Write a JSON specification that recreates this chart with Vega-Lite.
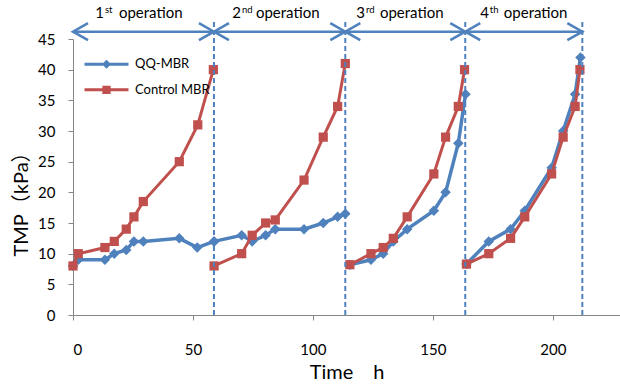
{
  "$schema": "https://vega.github.io/schema/vega-lite/v6.json",
  "autosize": {"type": "none"},
  "padding": {"left": 73, "top": 39, "right": 0, "bottom": 75},
  "width": 547,
  "height": 276,
  "background": "white",
  "config": {
    "view": {"stroke": null},
    "font": "Lato",
    "axis": {
      "grid": false,
      "domainColor": "#868686",
      "tickColor": "#868686",
      "tickSize": 5,
      "labelColor": "#000000",
      "labelFont": "Lato",
      "labelFontSize": 15,
      "labelOverlap": false,
      "titleColor": "#000000",
      "titleFont": "Lato, Noto Sans CJK SC",
      "titleFontSize": 20,
      "titleFontWeight": "normal"
    },
    "axisY": {"tickCount": 10},
    "axisX": {"tickCount": 5}
  },
  "datasets": {
    "ops": [
      {"n": "1", "sup": "st", "start": 0, "end": 58.75, "mid": 28.3},
      {"n": "2", "sup": "nd", "start": 58.75, "end": 113.5, "mid": 85.4},
      {"n": "3", "sup": "rd", "start": 113.5, "end": 163.5, "mid": 137.1},
      {"n": "4", "sup": "th", "start": 163.5, "end": 212.3, "mid": 188.75}
    ],
    "pts": [
      {"series": "QQ-MBR", "run": "Q1", "time": 0, "tmp": 8},
      {"series": "QQ-MBR", "run": "Q1", "time": 2.2, "tmp": 9},
      {"series": "QQ-MBR", "run": "Q1", "time": 13.3, "tmp": 9},
      {"series": "QQ-MBR", "run": "Q1", "time": 17.2, "tmp": 10},
      {"series": "QQ-MBR", "run": "Q1", "time": 22.2, "tmp": 10.6},
      {"series": "QQ-MBR", "run": "Q1", "time": 25.4, "tmp": 12},
      {"series": "QQ-MBR", "run": "Q1", "time": 29.3, "tmp": 12},
      {"series": "QQ-MBR", "run": "Q1", "time": 44.3, "tmp": 12.5},
      {"series": "QQ-MBR", "run": "Q1", "time": 51.8, "tmp": 11},
      {"series": "QQ-MBR", "run": "Q1", "time": 58.8, "tmp": 12},
      {"series": "QQ-MBR", "run": "Q2", "time": 58.8, "tmp": 12},
      {"series": "QQ-MBR", "run": "Q2", "time": 70.3, "tmp": 13},
      {"series": "QQ-MBR", "run": "Q2", "time": 74.7, "tmp": 12},
      {"series": "QQ-MBR", "run": "Q2", "time": 80.3, "tmp": 13},
      {"series": "QQ-MBR", "run": "Q2", "time": 84.3, "tmp": 14},
      {"series": "QQ-MBR", "run": "Q2", "time": 96.3, "tmp": 14},
      {"series": "QQ-MBR", "run": "Q2", "time": 104.3, "tmp": 15},
      {"series": "QQ-MBR", "run": "Q2", "time": 110.3, "tmp": 16},
      {"series": "QQ-MBR", "run": "Q2", "time": 113.5, "tmp": 16.5},
      {"series": "QQ-MBR", "run": "Q3", "time": 115.4, "tmp": 8.2},
      {"series": "QQ-MBR", "run": "Q3", "time": 124.2, "tmp": 9},
      {"series": "QQ-MBR", "run": "Q3", "time": 129.3, "tmp": 10},
      {"series": "QQ-MBR", "run": "Q3", "time": 133.5, "tmp": 12},
      {"series": "QQ-MBR", "run": "Q3", "time": 139.3, "tmp": 14},
      {"series": "QQ-MBR", "run": "Q3", "time": 150.4, "tmp": 17},
      {"series": "QQ-MBR", "run": "Q3", "time": 155.3, "tmp": 20},
      {"series": "QQ-MBR", "run": "Q3", "time": 160.6, "tmp": 28},
      {"series": "QQ-MBR", "run": "Q3", "time": 163.6, "tmp": 36},
      {"series": "QQ-MBR", "run": "Q4", "time": 164, "tmp": 8.3},
      {"series": "QQ-MBR", "run": "Q4", "time": 173.3, "tmp": 12},
      {"series": "QQ-MBR", "run": "Q4", "time": 182.4, "tmp": 14},
      {"series": "QQ-MBR", "run": "Q4", "time": 188.3, "tmp": 17},
      {"series": "QQ-MBR", "run": "Q4", "time": 199.5, "tmp": 24},
      {"series": "QQ-MBR", "run": "Q4", "time": 204.3, "tmp": 30},
      {"series": "QQ-MBR", "run": "Q4", "time": 209.3, "tmp": 36},
      {"series": "QQ-MBR", "run": "Q4", "time": 211.5, "tmp": 42},
      {"series": "Control MBR", "run": "C1", "time": 0, "tmp": 8},
      {"series": "Control MBR", "run": "C1", "time": 2.2, "tmp": 10},
      {"series": "Control MBR", "run": "C1", "time": 13.3, "tmp": 11},
      {"series": "Control MBR", "run": "C1", "time": 17.2, "tmp": 12},
      {"series": "Control MBR", "run": "C1", "time": 22.2, "tmp": 14},
      {"series": "Control MBR", "run": "C1", "time": 25.4, "tmp": 16},
      {"series": "Control MBR", "run": "C1", "time": 29.3, "tmp": 18.5},
      {"series": "Control MBR", "run": "C1", "time": 44.3, "tmp": 25},
      {"series": "Control MBR", "run": "C1", "time": 52, "tmp": 31},
      {"series": "Control MBR", "run": "C1", "time": 58.5, "tmp": 40},
      {"series": "Control MBR", "run": "C2", "time": 58.8, "tmp": 8},
      {"series": "Control MBR", "run": "C2", "time": 70.3, "tmp": 10},
      {"series": "Control MBR", "run": "C2", "time": 74.7, "tmp": 13},
      {"series": "Control MBR", "run": "C2", "time": 80.3, "tmp": 15},
      {"series": "Control MBR", "run": "C2", "time": 84.3, "tmp": 15.5},
      {"series": "Control MBR", "run": "C2", "time": 96.3, "tmp": 22},
      {"series": "Control MBR", "run": "C2", "time": 104.3, "tmp": 29},
      {"series": "Control MBR", "run": "C2", "time": 110.3, "tmp": 34},
      {"series": "Control MBR", "run": "C2", "time": 113.5, "tmp": 41},
      {"series": "Control MBR", "run": "C3", "time": 115.4, "tmp": 8.2},
      {"series": "Control MBR", "run": "C3", "time": 124.2, "tmp": 10},
      {"series": "Control MBR", "run": "C3", "time": 129.3, "tmp": 11},
      {"series": "Control MBR", "run": "C3", "time": 133.5, "tmp": 12.5},
      {"series": "Control MBR", "run": "C3", "time": 139.3, "tmp": 16},
      {"series": "Control MBR", "run": "C3", "time": 150.4, "tmp": 23},
      {"series": "Control MBR", "run": "C3", "time": 155.3, "tmp": 29},
      {"series": "Control MBR", "run": "C3", "time": 160.6, "tmp": 34},
      {"series": "Control MBR", "run": "C3", "time": 163.2, "tmp": 40},
      {"series": "Control MBR", "run": "C4", "time": 164, "tmp": 8.3},
      {"series": "Control MBR", "run": "C4", "time": 173.3, "tmp": 10},
      {"series": "Control MBR", "run": "C4", "time": 182.4, "tmp": 12.5},
      {"series": "Control MBR", "run": "C4", "time": 188.3, "tmp": 16},
      {"series": "Control MBR", "run": "C4", "time": 199.5, "tmp": 23},
      {"series": "Control MBR", "run": "C4", "time": 204.3, "tmp": 29},
      {"series": "Control MBR", "run": "C4", "time": 209.3, "tmp": 34},
      {"series": "Control MBR", "run": "C4", "time": 211.3, "tmp": 40}
    ]
  },
  "layer": [
    {
      "data": {"name": "pts"},
      "mark": {"type": "line", "color": "#4f81bd", "strokeWidth": 3.5},
      "transform": [{"filter": "datum.series == 'QQ-MBR'"}],
      "encoding": {
        "x": {"field": "time", "type": "quantitative", "title": "Time　h",
              "scale": {"domain": [0, 228], "nice": false},
              "axis": {"values": [0, 50, 100, 150, 200], "tickCount": 5, "labelPadding": 22, "labelBaseline": "top",
                       "titleX": 273.5, "titleY": 63, "titleBaseline": "alphabetic", "titleAnchor": null}},
        "y": {"field": "tmp", "type": "quantitative", "title": "TMP（kPa）",
              "scale": {"domain": [0, 45], "nice": false},
              "axis": {"values": [0, 5, 10, 15, 20, 25, 30, 35, 40, 45], "tickCount": 10, "labelPadding": 13,
                       "titleAngle": -90, "titleX": -46, "titleY": 160, "titleAlign": "center",
                       "titleBaseline": "alphabetic"}},
        "detail": {"field": "run"}
      }
    },
    {
      "data": {"name": "pts"},
      "mark": {"type": "point", "shape": "diamond", "filled": true, "opacity": 1, "color": "#4f81bd", "size": 110},
      "transform": [{"filter": "datum.series == 'QQ-MBR'"}],
      "encoding": {
        "x": {"field": "time", "type": "quantitative", "title": "Time　h", "scale": {"domain": [0, 228], "nice": false}},
        "y": {"field": "tmp", "type": "quantitative", "title": "TMP（kPa）", "scale": {"domain": [0, 45], "nice": false}}
      }
    },
    {
      "data": {"name": "pts"},
      "mark": {"type": "line", "color": "#c0504d", "strokeWidth": 3},
      "transform": [{"filter": "datum.series == 'Control MBR'"}],
      "encoding": {
        "x": {"field": "time", "type": "quantitative", "title": "Time　h", "scale": {"domain": [0, 228], "nice": false}},
        "y": {"field": "tmp", "type": "quantitative", "title": "TMP（kPa）", "scale": {"domain": [0, 45], "nice": false}},
        "detail": {"field": "run"}
      }
    },
    {
      "data": {"name": "pts"},
      "mark": {"type": "point", "shape": "square", "filled": true, "opacity": 1, "color": "#c0504d", "size": 85},
      "transform": [{"filter": "datum.series == 'Control MBR'"}],
      "encoding": {
        "x": {"field": "time", "type": "quantitative", "title": "Time　h", "scale": {"domain": [0, 228], "nice": false}},
        "y": {"field": "tmp", "type": "quantitative", "title": "TMP（kPa）", "scale": {"domain": [0, 45], "nice": false}}
      }
    },
    {
      "data": {"name": "ops"},
      "mark": {"type": "rule", "color": "#4f81bd", "strokeWidth": 2, "strokeDash": [5, 3]},
      "encoding": {
        "x": {"field": "end", "type": "quantitative", "title": "Time　h", "scale": {"domain": [0, 228], "nice": false}},
        "y": {"datum": 0, "type": "quantitative", "title": "TMP（kPa）", "scale": {"domain": [0, 45], "nice": false}},
        "y2": {"datum": 48.1}
      }
    },
    {
      "data": {"name": "ops"},
      "mark": {"type": "rule", "color": "#4f81bd", "strokeWidth": 2.5},
      "encoding": {
        "x": {"field": "start", "type": "quantitative", "title": "Time　h", "scale": {"domain": [0, 228], "nice": false}},
        "x2": {"field": "end"},
        "y": {"datum": 46.2, "type": "quantitative", "title": "TMP（kPa）", "scale": {"domain": [0, 45], "nice": false}}
      }
    },
    {
      "data": {"name": "ops"},
      "mark": {"type": "point", "shape": "M1,-0.57L0,0L1,0.57", "filled": false, "opacity": 1,
               "color": "#4f81bd", "strokeWidth": 2.5, "size": 900},
      "encoding": {
        "x": {"field": "start", "type": "quantitative", "title": "Time　h", "scale": {"domain": [0, 228], "nice": false}},
        "y": {"datum": 46.2, "type": "quantitative", "title": "TMP（kPa）", "scale": {"domain": [0, 45], "nice": false}}
      }
    },
    {
      "data": {"name": "ops"},
      "mark": {"type": "point", "shape": "M-1,-0.57L0,0L-1,0.57", "filled": false, "opacity": 1,
               "color": "#4f81bd", "strokeWidth": 2.5, "size": 900},
      "encoding": {
        "x": {"field": "end", "type": "quantitative", "title": "Time　h", "scale": {"domain": [0, 228], "nice": false}},
        "y": {"datum": 46.2, "type": "quantitative", "title": "TMP（kPa）", "scale": {"domain": [0, 45], "nice": false}}
      }
    },
    {
      "data": {"name": "ops"},
      "mark": {"type": "text", "align": "right", "baseline": "alphabetic", "dx": -37, "fontSize": 15, "color": "#000000"},
      "encoding": {
        "x": {"field": "mid", "type": "quantitative", "title": "Time　h", "scale": {"domain": [0, 228], "nice": false}},
        "y": {"datum": 48.4, "type": "quantitative", "title": "TMP（kPa）", "scale": {"domain": [0, 45], "nice": false}},
        "text": {"field": "n"}
      }
    },
    {
      "data": {"name": "ops"},
      "mark": {"type": "text", "align": "left", "baseline": "alphabetic", "dx": -36, "dy": -5, "fontSize": 9.5, "color": "#000000"},
      "encoding": {
        "x": {"field": "mid", "type": "quantitative", "title": "Time　h", "scale": {"domain": [0, 228], "nice": false}},
        "y": {"datum": 48.4, "type": "quantitative", "title": "TMP（kPa）", "scale": {"domain": [0, 45], "nice": false}},
        "text": {"field": "sup"}
      }
    },
    {
      "data": {"name": "ops"},
      "mark": {"type": "text", "align": "left", "baseline": "alphabetic", "dx": -22, "fontSize": 15, "color": "#000000"},
      "encoding": {
        "x": {"field": "mid", "type": "quantitative", "title": "Time　h", "scale": {"domain": [0, 228], "nice": false}},
        "y": {"datum": 48.4, "type": "quantitative", "title": "TMP（kPa）", "scale": {"domain": [0, 45], "nice": false}},
        "text": {"value": "operation"}
      }
    },
    {
      "data": {"name": "pts"},
      "transform": [{"filter": "datum.series == 'legend only'"}],
      "mark": {"type": "point", "filled": false, "opacity": 1, "strokeWidth": 3},
      "encoding": {
        "x": {"field": "time", "type": "quantitative", "title": "Time　h", "scale": {"domain": [0, 228], "nice": false}},
        "y": {"field": "tmp", "type": "quantitative", "title": "TMP（kPa）", "scale": {"domain": [0, 45], "nice": false}},
        "color": {
          "field": "series", "type": "nominal",
          "scale": {"domain": ["QQ-MBR", "Control MBR"], "range": ["#4f81bd", "#c0504d"]},
          "legend": {
            "title": null, "orient": "none", "legendX": 21, "legendY": 12.7,
            "symbolSize": 484, "symbolStrokeWidth": 3, "labelFontSize": 13, "labelFont": "Lato",
            "labelColor": "#000000", "labelOffset": 16, "rowPadding": 4.6, "padding": 0,
            "encode": {"symbols": {"update": {"fill": {"scale": "color", "field": "value"}, "strokeWidth": {"value": 3}}}}
          }
        },
        "shape": {
          "field": "series", "type": "nominal",
          "scale": {"domain": ["QQ-MBR", "Control MBR"],
                    "range": ["M-2,0H2M0,-0.22L0.22,0L0,0.22L-0.22,0Z", "M-2,0H2M-0.24,-0.24H0.24V0.24H-0.24Z"]},
          "legend": {"title": null}
        }
      }
    }
  ]
}
